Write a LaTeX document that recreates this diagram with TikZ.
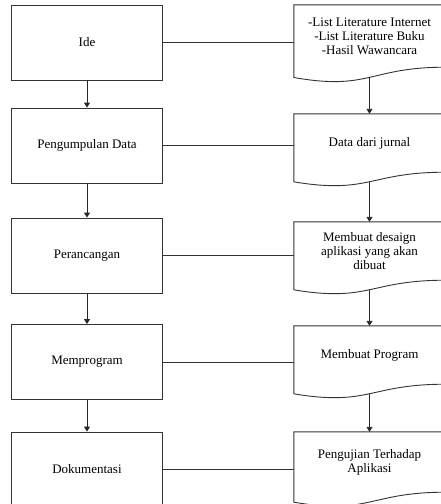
\documentclass[tikz,border=0pt]{standalone}
\usepackage{fontspec}
\setmainfont{Liberation Serif}
\usetikzlibrary{
  arrows.meta,
  calc,
}

\begin{document}
\begin{tikzpicture}[
  x=1pt, y=-1pt,
  >={Triangle[length=5pt,width=6pt]},
  proc/.style ={draw=black!80, line width=0.9pt,
                minimum width=151pt, minimum height=75pt, inner sep=0pt,
                align=center, font=\fontsize{13}{14}\selectfont},
  doc/.style  ={minimum width=151pt, minimum height=58pt, inner sep=0pt,
                align=center, font=\fontsize{13}{14}\selectfont,
                append after command={\pgfextra{
                  \draw[draw=black!80, line width=0.9pt]
                    (\tikzlastnode.north west) -- (\tikzlastnode.north east)
                    -- (\tikzlastnode.south east)
                    .. controls (\tikzlastnode.south)
                       and ($(\tikzlastnode.north)!1.38!(\tikzlastnode.south)$)
                    .. ($(\tikzlastnode.north west)!1.165!(\tikzlastnode.south west)$)
                    -- cycle;
                }}},
  link/.style ={draw=black!80, line width=0.9pt},
  flow/.style ={->, draw=black!85, line width=0.9pt},
]
  \useasboundingbox (0,0) rectangle (441,504);

  % Steps on the left, documents on the right
  \node[proc] (ide)     at (87, 42.5) {Ide};
  \node[proc] (kumpul)  at (87,145.5) {Pengumpulan Data};
  \node[proc] (rancang) at (87,255.5) {Perancangan};
  \node[proc] (program) at (87,362)   {Memprogram};
  \node[proc] (dokumen) at (87,469.5) {Dokumentasi};

  \node[doc, minimum height=62pt] (literatur) at (369.5, 36)
    {-List Literature Internet\\-List Literature Buku\\-Hasil Wawancara};
  \node[doc] (jurnal)   at (369.5,143) {Data dari jurnal};
  \node[doc] (desain)   at (369.5,251) {Membuat desaign\\aplikasi yang akan\\dibuat};
  \node[doc] (buatprog) at (369.5,355) {Membuat Program};
  \node[doc, minimum height=60pt] (uji) at (369.5,462)
    {Pengujian Terhadap\\Aplikasi};

  % Step to step
  \draw[flow] (ide)     -- (kumpul);
  \draw[flow] (kumpul)  -- (rancang);
  \draw[flow] (rancang) -- (program);
  \draw[flow] (program) -- (dokumen);

  % Document to document, from the middle of the wavy edge
  \draw[flow] ($(literatur.north)!1.163!(literatur.south)$) -- (jurnal.north);
  \draw[flow] ($(jurnal.north)!1.163!(jurnal.south)$)       -- (desain.north);
  \draw[flow] ($(desain.north)!1.163!(desain.south)$)       -- (buatprog.north);
  \draw[flow] ($(buatprog.north)!1.163!(buatprog.south)$)   -- (uji.north);

  % Step to its document
  \draw[link] (ide.east)     -- (ide.east -| literatur.west);
  \draw[link] (kumpul.east)  -- (kumpul.east -| jurnal.west);
  \draw[link] (rancang.east) -- (rancang.east -| desain.west);
  \draw[link] (program.east) -- (program.east -| buatprog.west);
  \draw[link] (dokumen.east) -- (dokumen.east -| uji.west);
\end{tikzpicture}
\end{document}
